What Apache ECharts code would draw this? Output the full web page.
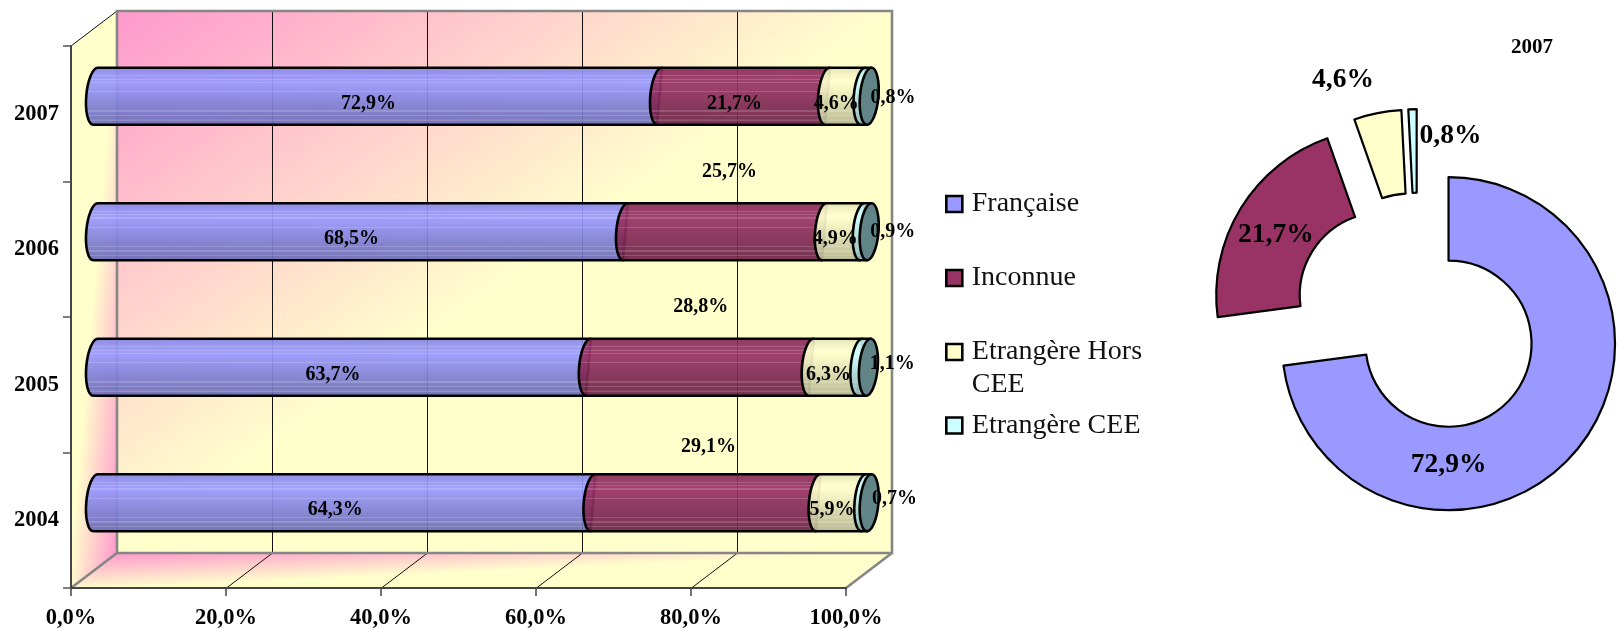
<!DOCTYPE html>
<html><head><meta charset="utf-8">
<style>html,body{margin:0;padding:0;background:#fff}#c{width:1617px;height:629px}</style>
<script src="https://cdn.jsdelivr.net/npm/echarts@6/dist/echarts.min.js"></script>
</head><body><div id="c"></div>
<script>
const years = ['2004', '2005', '2006', '2007'];
const xTicks = [0, 20, 40, 60, 80, 100];
const names = ['Française', 'Inconnue', 'Etrangère Hors CEE', 'Etrangère CEE'];
const francaise = [64.3, 63.7, 68.5, 72.9];
const inconnue = [29.1, 28.8, 25.7, 21.7];
const horsCee = [5.9, 6.3, 4.9, 4.6];
const cee = [0.7, 1.1, 0.9, 0.8];
const values = [francaise, inconnue, horsCee, cee];
const colors = ['#9999FF', '#993366', '#FFFFCC', '#CCFFFF'];
const capColor = '#618587';
const pieTitle = '2007';

// label placement (pixels, relative to the middle of each bar segment)
const labelNudge = [
  [[-9, 7], [-9, 7.5], [-9, 7.5], [-9, 7.5]],
  [[3, -55.5], [1, -60.5], [4.5, -59.5], [-9, 7.5]],
  [[-9, 7], [-7, 7.5], [-8, 7.5], [-9, 7.5]],
  [[28, -3.5], [28, -3.5], [27, 0.5], [27, 2]]
];
const pieNudge = [[-96, 37], [2, 6], [-42, -71], [37, -12]];

const SERIF = '"Liberation Serif", serif';
const fmt = v => v.toFixed(1).replace('.', ',') + '%';
const DEPTH = [46, -35], RX = 9.2, SKEW = 2.5;

function mix(hex, f, w) {
  const c = [1, 3, 5].map(i => parseInt(hex.substr(i, 2), 16) * f);
  const r = c.map(v => Math.round(v + (255 - v) * (w || 0)));
  return 'rgba(' + r.join(',') + ',0.93)';
}
function barGradient(hex, y0, y1) {
  const base = [[0, .88], [.12, .96], [.22, 1], [.32, .98], [.5, .9], [.7, .82], [.88, .76], [1, .7]];
  const shade = t => {
    for (let i = 1; i < base.length; i++) if (t <= base[i][0]) {
      const a = base[i - 1], b = base[i];
      return a[1] + (b[1] - a[1]) * (t - a[0]) / (b[0] - a[0]);
    }
    return .7;
  };
  const stripes = [.14, .2, .26, .42, .76, .84, .92];
  const pts = [0, .06, .1, .17, .23, .3, .36, .5, .62, .72, .8, .88, .96, 1];
  let marks = [];
  pts.forEach(t => marks.push([t, 0]));
  stripes.forEach(t => marks.push([t - .012, 0], [t - .011, .16], [t + .011, .16], [t + .012, 0]));
  marks.sort((a, b) => a[0] - b[0]);
  const stops = marks.map(m => ({offset: m[0], color: mix(hex, shade(m[0]), m[1])}));
  return new echarts.graphic.LinearGradient(0, y0, 0, y1, stops, true);
}
function renderSegment(sIdx) {
  return function (params, api) {
    const cat = api.value(2), start = api.value(0), end = api.value(1);
    const a = api.coord([start, cat]), b = api.coord([end, cat]);
    const h = api.size([0, 1])[1] * 0.42, cy = a[1], y0 = cy - h / 2, y1 = cy + h / 2;
    const d = `M${a[0] + SKEW} ${y0} A${RX} ${h / 2} 5 0 0 ${a[0] - SKEW} ${y1} L${b[0] - SKEW} ${y1} L${b[0] + SKEW} ${y0} Z`;
    const stroke = {stroke: '#000', lineWidth: 2.6, lineJoin: 'round'};
    const kids = [{type: 'path', shape: {pathData: d}, style: Object.assign({fill: barGradient(colors[sIdx], y0, y1)}, stroke)}];
    if (sIdx === 3) {
      const c = `M${b[0] + SKEW} ${y0} A${RX} ${h / 2} 5 1 0 ${b[0] - SKEW} ${y1} A${RX} ${h / 2} 5 1 0 ${b[0] + SKEW} ${y0} Z`;
      kids.push({type: 'path', shape: {pathData: c}, style: Object.assign({fill: capColor}, stroke)});
    }
    const mid = (a[0] + b[0]) / 2, nudge = labelNudge[sIdx][cat];
    kids.push({
      type: 'text', z2: 100,
      style: {
        text: fmt(api.value(3)), x: mid + nudge[0], y: cy + nudge[1],
        align: 'center', verticalAlign: 'middle', fill: '#000',
        font: 'bold 20px ' + SERIF
      }
    });
    return {type: 'group', children: kids};
  };
}
function renderWalls(params, api) {
  const cs = params.coordSys, L = cs.x, T = cs.y, R = cs.x + cs.width, B = cs.y + cs.height;
  const dx = DEPTH[0], dy = DEPTH[1];
  const G = (x0, y0, x1, y1, st) => new echarts.graphic.LinearGradient(x0, y0, x1, y1, st, true);
  const PINK = '#FF99CC', YEL = '#FFFFCC';
  const lineStyle = (c, w) => ({stroke: c, lineWidth: w, fill: null});
  const seq = [{offset: 0, color: PINK}, {offset: 1, color: YEL}];
  const kids = [
    {type: 'polygon', shape: {points: [[L + dx, T + dy], [R + dx, T + dy], [R + dx, B + dy], [L + dx, B + dy]]},
      style: {fill: G(L + dx, T + dy, L + dx + 254, T + dy + 364, seq)}},
    {type: 'polygon', shape: {points: [[L, T], [L + dx, T + dy], [L + dx, B + dy], [L, B]]},
      style: {fill: G(L + dx, B + dy, L + dx - 45.7, B + dy - 3.9, seq)}},
    {type: 'polygon', shape: {points: [[L, B], [L + dx, B + dy], [R + dx, B + dy], [R, B]]},
      style: {fill: G(L + dx, B + dy, L + dx + 1.6, B + dy + 35, seq)}}
  ];
  xTicks.slice(1, -1).forEach(v => {
    const x = Math.round(api.coord([v, 0])[0]) + 0.5;
    kids.push({type: 'polyline', shape: {points: [[x + dx, T + dy], [x + dx, B + dy], [x, B]]}, style: lineStyle('#111', 1)});
  });
  kids.push({type: 'polyline', shape: {points: [[L, T], [L + dx, T + dy]]}, style: lineStyle('#111', 1)});
  kids.push({type: 'polygon', shape: {points: [[L + dx, T + dy], [R + dx, T + dy], [R + dx, B + dy], [L + dx, B + dy]]},
    style: {stroke: '#868686', lineWidth: 2.6, fill: 'none'}});
  kids.push({type: 'polyline', shape: {points: [[L, B], [L + dx, B + dy]]}, style: lineStyle('#868686', 2.6)});
  kids.push({type: 'polyline', shape: {points: [[R, B], [R + dx, B + dy]]}, style: lineStyle('#868686', 2.6)});
  return {type: 'group', children: kids};
}

const barSeries = names.map((name, s) => {
  const data = years.map((y, c) => {
    let start = 0;
    for (let k = 0; k < s; k++) start += values[k][c];
    return [start, start + values[s][c], c, values[s][c]];
  });
  return {
    name, type: 'custom', xAxisIndex: 1, yAxisIndex: 1, z: 3, data,
    encode: {x: [0, 1], y: 2}, itemStyle: {color: colors[s]},
    renderItem: renderSegment(s), clip: false, animation: false, silent: true
  };
});

const legendTops = [182.5, 256.5, 297.5, 404];
const legends = names.map((name, i) => ({
  left: 940, top: legendTops[i], orient: 'vertical', selectedMode: false,
  itemWidth: 16, itemHeight: 16, itemGap: 0,
  data: [{name, icon: 'rect', itemStyle: {color: colors[i], borderColor: '#000', borderWidth: 2.6}}],
  formatter: n => n === 'Etrangère Hors CEE' ? '\nEtrangère Hors\nCEE' : n,
  textStyle: {fontFamily: SERIF, fontSize: 28, color: '#111', lineHeight: 33, padding: [0, 0, 0, 4.5]}
}));

const chart = echarts.init(document.getElementById('c'), null, {renderer: 'canvas'});
chart.setOption({
  animation: false,
  backgroundColor: '#fff',
  title: {text: pieTitle, left: 1506, top: 32, textStyle: {fontFamily: SERIF, fontWeight: 'bold', fontSize: 21, color: '#000'}},
  legend: legends,
  grid: [
    {left: 71, top: 46, width: 775, height: 542, outerBoundsMode: 'none'},
    {left: 95.5, top: 28.5, width: 773.7, height: 542, outerBoundsMode: 'none'}
  ],
  xAxis: [
    {type: 'value', gridIndex: 0, min: 0, max: 100, interval: 20, z: 5,
      axisLine: {show: true, onZero: false, lineStyle: {color: '#444', width: 2}},
      axisTick: {show: true, length: 8, lineStyle: {color: '#444', width: 1.5}},
      splitLine: {show: false},
      axisLabel: {margin: 19, color: '#000', fontFamily: SERIF, fontWeight: 'bold', fontSize: 22.5,
        formatter: v => v.toFixed(1).replace('.', ',') + '%', showMinLabel: true, showMaxLabel: true, hideOverlap: false}},
    {type: 'value', gridIndex: 1, min: 0, max: 100, show: false, splitLine: {show: false}}
  ],
  yAxis: [
    {type: 'category', gridIndex: 0, data: years, z: 5,
      axisLine: {show: true, onZero: false, lineStyle: {color: '#444', width: 2}},
      axisTick: {show: true, length: 8, lineStyle: {color: '#555', width: 1.5}},
      axisLabel: {margin: 12, color: '#000', fontFamily: SERIF, fontWeight: 'bold', fontSize: 22.5}},
    {type: 'category', gridIndex: 1, data: years, show: false}
  ],
  series: [
    {type: 'custom', name: 'walls', xAxisIndex: 0, yAxisIndex: 0, z: 1, data: [[0, 0]], encode: {x: 0, y: 1},
      renderItem: renderWalls, clip: false, silent: true},
    ...barSeries,
    {type: 'pie', name: pieTitle, center: [1417.7, 316.7], radius: [83, 166.5], startAngle: 90, clockwise: true,
      selectedMode: 'multiple', selectedOffset: 41, avoidLabelOverlap: false,
      itemStyle: {borderColor: '#000', borderWidth: 2.2}, labelLine: {show: false},
      label: {position: 'inside', color: '#000', fontFamily: SERIF, fontWeight: 'bold', fontSize: 27.5, formatter: p => fmt(p.value)},
      labelLayout: p => ({dx: pieNudge[p.dataIndex][0], dy: pieNudge[p.dataIndex][1]}),
      emphasis: {disabled: true},
      data: names.map((name, i) => ({
        name, value: values[i][years.length - 1], selected: true,
        itemStyle: {color: colors[i]}
      }))}
  ]
});
</script></body></html>
